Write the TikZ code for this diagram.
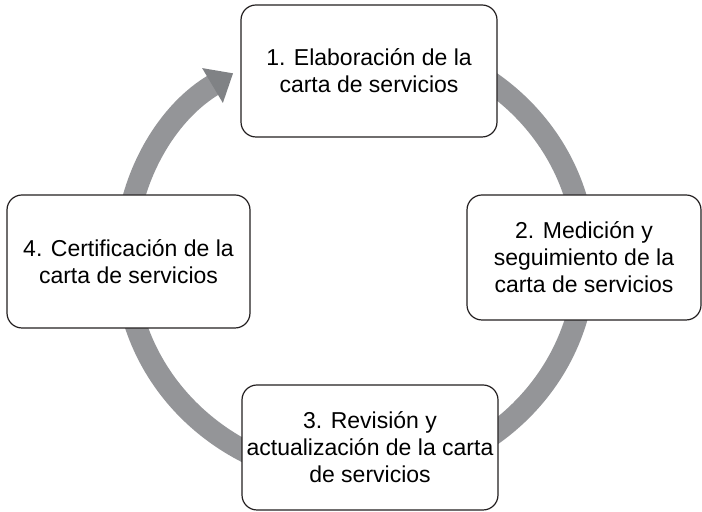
\documentclass[tikz,border=0pt]{standalone}
\usepackage{fontspec}
\setmainfont{Liberation Sans}
\usetikzlibrary{arrows.meta}
\definecolor{ringgray}{RGB}{148,149,152}
\definecolor{headgray}{RGB}{128,130,133}
\definecolor{edgegray}{RGB}{35,31,32}

\begin{document}
\begin{tikzpicture}[x=0.5pt,y=0.5pt,
    stage/.style={draw=edgegray, line width=0.6pt, fill=white, rounded corners=7.5pt,
        inner sep=0pt, align=center, font=\fontsize{11.5}{13.5}\selectfont},
    ring/.style={draw=ringgray, line width=11pt}]
    \useasboundingbox (0,0) rectangle (702,512);

    % cycle band behind the boxes
    \draw [ring, -{Triangle[length=12pt,width=19.5pt,color=headgray]}]
        (355,253) ++(95:230 and 219) arc [start angle=95, end angle=-238, x radius=230, y radius=219];

    \node [stage, minimum width=128pt, minimum height=66pt] (elaboracion) at (369,441)
        {1. Elaboración de la\\carta de servicios};
    \node [stage, minimum width=117pt, minimum height=62.5pt] (medicion) at (584,254.5)
        {2. Medición y\\seguimiento de la\\carta de servicios};
    \node [stage, minimum width=128pt, minimum height=62.5pt] (revision) at (370,64.5)
        {3. Revisión y\\actualización de la carta\\de servicios};
    \node [stage, minimum width=121.5pt, minimum height=66.5pt] (certificacion) at (128.5,250.5)
        {4. Certificación de la\\carta de servicios};
\end{tikzpicture}
\end{document}
